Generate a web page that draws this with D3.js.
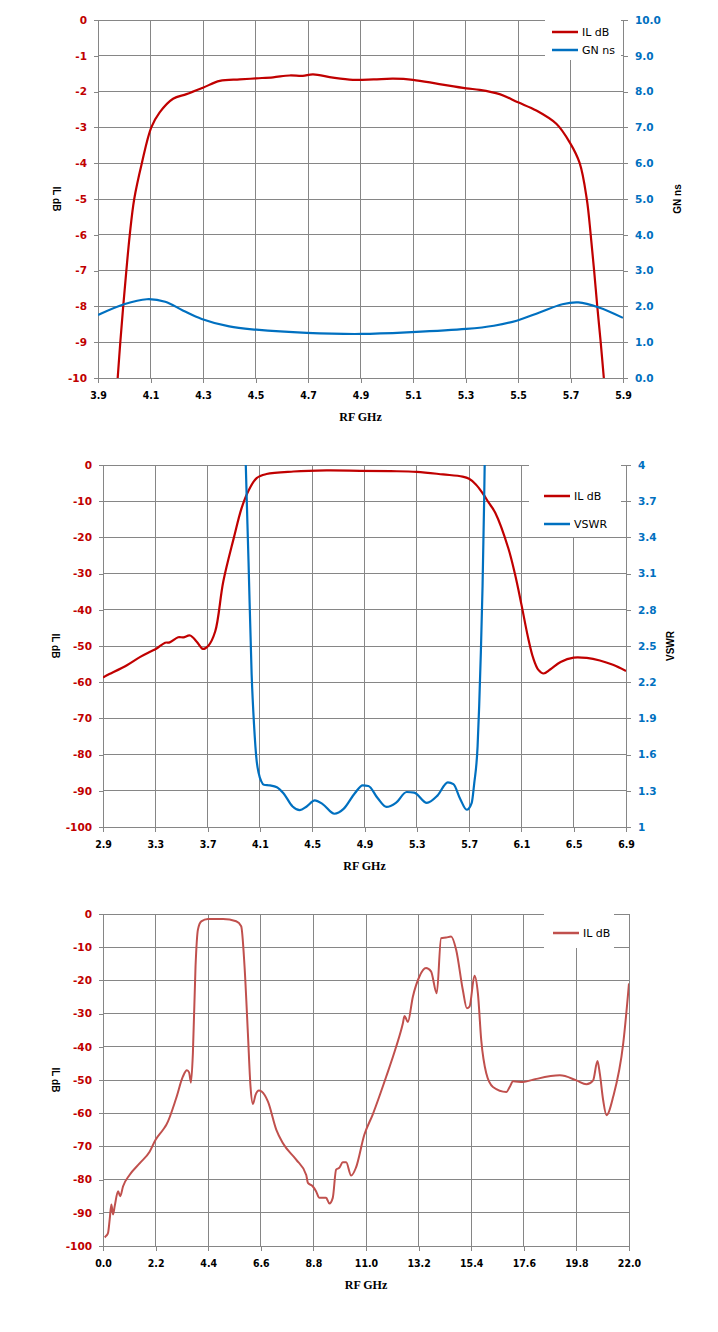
<!DOCTYPE html>
<html>
<head>
<meta charset="utf-8">
<script src="https://cdn.jsdelivr.net/npm/d3@7"></script>
<style>
  body { margin: 0; background: #fff; }
</style>
</head>
<body>
<div id="d3"></div>
<script>
// chart 1: passband IL and group delay
const passFreqIL = [3.975, 3.985, 3.996, 4.008, 4.021, 4.038, 4.067, 4.103, 4.135, 4.186, 4.237, 4.3, 4.364, 4.44, 4.503, 4.567, 4.63, 4.68, 4.719, 4.795, 4.871, 4.95, 5.024, 5.1, 5.2, 5.303, 5.354, 5.43, 5.5, 5.57, 5.646, 5.697, 5.735, 5.762, 5.777, 5.79, 5.802, 5.815, 5.827];
const passIL = [-10, -9, -8, -7, -6, -5, -4, -3, -2.58, -2.2, -2.07, -1.89, -1.7, -1.66, -1.63, -1.6, -1.55, -1.56, -1.52, -1.61, -1.67, -1.66, -1.64, -1.67, -1.79, -1.91, -1.95, -2.07, -2.3, -2.53, -2.9, -3.42, -4, -5, -6, -7, -8, -9, -10];
const passFreqGD = [3.9, 3.999, 4.086, 4.156, 4.225, 4.295, 4.4, 4.503, 4.695, 4.903, 5.095, 5.303, 5.408, 5.495, 5.582, 5.669, 5.73, 5.808, 5.9];
const passGD = [1.76, 2.06, 2.2, 2.13, 1.88, 1.65, 1.44, 1.35, 1.26, 1.23, 1.28, 1.37, 1.46, 1.6, 1.83, 2.06, 2.11, 1.97, 1.68];

// chart 2: IL and VSWR
const wideFreqIL = [2.9, 2.93, 3.083, 3.185, 3.26, 3.31, 3.375, 3.41, 3.475, 3.515, 3.566, 3.617, 3.664, 3.706, 3.758, 3.82, 3.9, 3.96, 4.01, 4.075, 4.15, 4.357, 4.61, 4.865, 5.1, 5.3, 5.5, 5.65, 5.7, 5.75, 5.8, 5.85, 5.9, 6.0, 6.05, 6.1, 6.15, 6.19, 6.23, 6.27, 6.32, 6.4, 6.5, 6.6, 6.7, 6.8, 6.9];
const wideIL = [-58.7, -58.1, -55.3, -53.0, -51.6, -50.7, -49.1, -49.0, -47.6, -47.6, -47.1, -48.8, -50.8, -49.9, -46.0, -32.2, -20.2, -11.9, -7.3, -3.6, -2.5, -1.8, -1.5, -1.6, -1.7, -1.9, -2.6, -3.2, -3.8, -5.3, -7.6, -10.4, -13.2, -23, -30, -38.5, -47.5, -53.3, -56.6, -57.6, -56.5, -54.4, -53.2, -53.3, -54.0, -55.2, -56.9];
const vswrFreq = [3.985, 3.99, 4.013, 4.037, 4.055, 4.075, 4.09, 4.11, 4.13, 4.177, 4.23, 4.28, 4.35, 4.405, 4.458, 4.52, 4.58, 4.67, 4.74, 4.826, 4.886, 4.93, 5.0, 5.068, 5.14, 5.223, 5.28, 5.377, 5.458, 5.537, 5.58, 5.633, 5.682, 5.72, 5.739, 5.765, 5.777, 5.79, 5.803, 5.815, 5.822];
const vswr = [4.3, 4.08, 3.2, 2.26, 1.85, 1.55, 1.45, 1.38, 1.35, 1.345, 1.33, 1.28, 1.17, 1.14, 1.17, 1.22, 1.19, 1.11, 1.15, 1.28, 1.345, 1.34, 1.24, 1.166, 1.2, 1.29, 1.285, 1.2, 1.26, 1.37, 1.355, 1.23, 1.143, 1.2, 1.36, 1.67, 2.0, 2.45, 3.0, 3.7, 4.2];

// chart 3: broadband IL
const broadFreq = [0.07, 0.14, 0.21, 0.28, 0.35, 0.42, 0.49, 0.63, 0.72, 0.84, 1.11, 1.53, 1.95, 2.2, 2.51, 2.65, 3.06, 3.34, 3.51, 3.6, 3.68, 3.76, 3.87, 3.97, 4.11, 4.39, 5.02, 5.57, 5.78, 5.92, 6.06, 6.17, 6.27, 6.38, 6.52, 6.76, 6.9, 7.25, 7.52, 8.08, 8.5, 8.57, 8.77, 8.91, 9.05, 9.33, 9.47, 9.61, 9.75, 9.89, 10.03, 10.17, 10.38, 10.58, 10.93, 11.28, 11.84, 12.26, 12.54, 12.61, 12.75, 12.96, 13.23, 13.51, 13.72, 13.96, 14.14, 14.35, 14.56, 14.77, 15.05, 15.22, 15.33, 15.54, 15.68, 15.82, 16.03, 16.31, 16.87, 17.01, 17.15, 17.57, 17.99, 19.11, 19.8, 20.22, 20.5, 20.68, 20.78, 20.92, 21.06, 21.34, 21.76, 22.0];
const broadIL = [-97.4, -96.9, -96.1, -92, -87.5, -90.5, -88, -83.5, -85, -82, -78.6, -75.1, -71.6, -68, -65, -63.5, -55.5, -49, -47.1, -47.7, -50.8, -41.9, -15.8, -4.7, -2.2, -1.5, -1.5, -2.2, -3.7, -15.8, -35.9, -52, -57.2, -54.5, -53.2, -54.5, -56.5, -65, -69, -74, -78.6, -81, -82, -83.5, -85.5, -85.5, -87.2, -85.5, -77, -76.4, -74.8, -74.8, -78.8, -76.4, -66.5, -60.4, -49.1, -40, -33, -30.7, -32.5, -24.9, -18.9, -16.3, -17.3, -23.9, -7.3, -7.1, -6.8, -10.8, -22.9, -28.4, -27.9, -18.6, -23.9, -38, -48, -52.1, -53.6, -52.1, -50.4, -50.6, -49.9, -48.6, -50.1, -51.3, -50.1, -44.3, -48.1, -56.1, -60.6, -55, -38.9, -20.9];

// tick values
const passXTicks = d3.range(0, 11).map((i) => +(3.9 + i * 0.2).toFixed(1));
const passYTicks = d3.range(-10, 1);
const passGDTicks = d3.range(0, 11);
const wideXTicks = d3.range(0, 11).map((i) => +(2.9 + i * 0.4).toFixed(1));
const wideYTicks = d3.range(-100, 1, 10);
const vswrTicks = d3.range(0, 11).map((i) => +(1 + i * 0.3).toFixed(1));
const broadXTicks = d3.range(0, 11).map((i) => +(i * 2.2).toFixed(1));
const broadYTicks = d3.range(-100, 1, 10);

const red = "#c00000";
const blue = "#0070c0";
const softRed = "#c0504d";
const gridColor = "#868686";

const svg = d3
  .select("#d3")
  .append("svg")
  .attr("width", 718)
  .attr("height", 1332);

function zip(xs, ys) {
  return xs.map((x, i) => [x, ys[i]]);
}

// plain hyphen instead of the unicode minus d3 uses
const intFmt = (d) => String(d);

function drawChart(c) {
  const g = svg.append("g");
  const x = d3.scaleLinear().domain(c.xDomain).range([c.left, c.right]);
  const yL = d3.scaleLinear().domain(c.yLeft.domain).range([c.bottom, c.top]);
  const yR = c.yRight
    ? d3.scaleLinear().domain(c.yRight.domain).range([c.bottom, c.top])
    : null;

  // gridlines
  g.selectAll(".hgrid")
    .data(c.yLeft.ticks)
    .enter()
    .append("line")
    .attr("x1", c.left)
    .attr("x2", c.right)
    .attr("y1", (d) => yL(d))
    .attr("y2", (d) => yL(d))
    .attr("stroke", gridColor)
    .attr("shape-rendering", "crispEdges");
  g.selectAll(".vgrid")
    .data(c.xTicks)
    .enter()
    .append("line")
    .attr("x1", (d) => x(d))
    .attr("x2", (d) => x(d))
    .attr("y1", c.top)
    .attr("y2", c.bottom)
    .attr("stroke", gridColor)
    .attr("shape-rendering", "crispEdges");

  // axes
  const styleAxis = (sel, color, font) => {
    sel.select(".domain").attr("stroke", gridColor).attr("shape-rendering", "crispEdges");
    sel.selectAll(".tick line").attr("stroke", gridColor).attr("shape-rendering", "crispEdges");
    sel.selectAll(".tick text")
      .attr("fill", color)
      .style("font-family", font.family)
      .style("font-size", font.size)
      .style("font-weight", "bold");
  };

  g.append("g")
    .attr("transform", `translate(0,${c.bottom})`)
    .call(
      d3.axisBottom(x).tickValues(c.xTicks).tickFormat(d3.format(".1f"))
        .tickSize(5).tickSizeOuter(0).tickPadding(9)
    )
    .call((s) => styleAxis(s, "#000", { family: "'DejaVu Sans Condensed', sans-serif", size: "10.5px" }));

  g.append("g")
    .attr("transform", `translate(${c.left},0)`)
    .call(
      d3.axisLeft(yL).tickValues(c.yLeft.ticks).tickFormat(c.yLeft.format)
        .tickSize(4).tickSizeOuter(0).tickPadding(7)
    )
    .call((s) => styleAxis(s, red, { family: "'DejaVu Sans', sans-serif", size: "10.5px" }));

  if (yR) {
    g.append("g")
      .attr("transform", `translate(${c.right},0)`)
      .call(
        d3.axisRight(yR).tickValues(c.yRight.ticks).tickFormat(c.yRight.format)
          .tickSize(5).tickSizeOuter(0).tickPadding(7)
      )
      .call((s) => styleAxis(s, blue, { family: "'DejaVu Sans', sans-serif", size: "10.5px" }));
  }

  // axis titles
  g.append("text")
    .attr("x", (c.left + c.right) / 2)
    .attr("y", c.bottom + 43)
    .attr("text-anchor", "middle")
    .style("font-family", "'Liberation Serif', serif")
    .style("font-size", "12px")
    .style("font-weight", "bold")
    .text("RF GHz");

  const midY = (c.top + c.bottom) / 2;
  g.append("text")
    .attr("transform", `translate(${c.leftTitleX},${midY}) rotate(90)`)
    .attr("text-anchor", "middle")
    .attr("dominant-baseline", "central")
    .style("font-family", "'Liberation Sans', sans-serif")
    .style("font-size", "10px")
    .style("font-weight", "bold")
    .text(c.yLeft.title);

  if (yR) {
    g.append("text")
      .attr("transform", `translate(${c.rightTitleX},${midY}) rotate(-90)`)
      .attr("text-anchor", "middle")
      .attr("dominant-baseline", "central")
      .style("font-family", "'Liberation Sans', sans-serif")
      .style("font-size", "10px")
      .style("font-weight", "bold")
      .text(c.yRight.title);
  }

  // series
  const clipId = "clip" + c.id;
  svg.append("clipPath")
    .attr("id", clipId)
    .append("rect")
    .attr("x", c.left)
    .attr("y", c.top)
    .attr("width", c.right - c.left)
    .attr("height", c.bottom - c.top);

  c.series.forEach((s) => {
    const yScale = s.axis === "right" ? yR : yL;
    const line = d3
      .line()
      .x((d) => x(d[0]))
      .y((d) => yScale(d[1]))
      .curve(s.curve);
    g.append("path")
      .datum(zip(s.x, s.y))
      .attr("clip-path", `url(#${clipId})`)
      .attr("fill", "none")
      .attr("stroke", s.color)
      .attr("stroke-width", s.width || 2.2)
      .attr("stroke-linejoin", "round")
      .attr("d", line);
  });

  // legend
  const lg = c.legend;
  g.append("rect")
    .attr("x", lg.x)
    .attr("y", c.top)
    .attr("width", lg.w)
    .attr("height", lg.h)
    .attr("fill", "#fff");
  c.series.forEach((s, i) => {
    const ly = lg.firstRow + i * lg.rowGap;
    g.append("line")
      .attr("x1", lg.lineX)
      .attr("x2", lg.lineX + 26)
      .attr("y1", ly)
      .attr("y2", ly)
      .attr("stroke", s.color)
      .attr("stroke-width", 2.5);
    g.append("text")
      .attr("x", lg.lineX + 30)
      .attr("y", ly)
      .attr("dominant-baseline", "central")
      .style("font-family", "'DejaVu Sans', sans-serif")
      .style("font-size", "11px")
      .text(s.name);
  });
}

const smooth = d3.curveCatmullRom.alpha(0.5);

drawChart({
  id: 1,
  left: 98, right: 623, top: 20, bottom: 378,
  xDomain: [3.9, 5.9],
  xTicks: passXTicks,
  yLeft: { domain: [-10, 0], ticks: passYTicks, format: intFmt, title: "IL dB" },
  yRight: { domain: [0, 10], ticks: passGDTicks, format: d3.format(".1f"), title: "GN ns" },
  leftTitleX: 56, rightTitleX: 677,
  series: [
    { name: "IL dB", x: passFreqIL, y: passIL, color: red, axis: "left", curve: smooth },
    { name: "GN ns", x: passFreqGD, y: passGD, color: blue, axis: "right", curve: smooth },
  ],
  legend: { x: 545, w: 76, h: 40, lineX: 552, firstRow: 32, rowGap: 18 },
});

drawChart({
  id: 2,
  left: 103, right: 626, top: 465, bottom: 827,
  xDomain: [2.9, 6.9],
  xTicks: wideXTicks,
  yLeft: { domain: [-100, 0], ticks: wideYTicks, format: intFmt, title: "IL dB" },
  yRight: { domain: [1, 4], ticks: vswrTicks, format: (d) => String(d), title: "VSWR" },
  leftTitleX: 55, rightTitleX: 670,
  series: [
    { name: "IL dB", x: wideFreqIL, y: wideIL, color: red, axis: "left", curve: smooth },
    { name: "VSWR", x: vswrFreq, y: vswr, color: blue, axis: "right", curve: d3.curveMonotoneX },
  ],
  legend: { x: 529, w: 92, h: 72, lineX: 544, firstRow: 496, rowGap: 28 },
});

drawChart({
  id: 3,
  left: 103, right: 629, top: 914, bottom: 1246,
  xDomain: [0, 22],
  xTicks: broadXTicks,
  yLeft: { domain: [-100, 0], ticks: broadYTicks, format: intFmt, title: "IL dB" },
  yRight: null,
  leftTitleX: 55,
  series: [
    { name: "IL dB", x: broadFreq, y: broadIL, color: softRed, axis: "left", curve: d3.curveMonotoneX, width: 2 },
  ],
  legend: { x: 544, w: 70, h: 34, lineX: 553, firstRow: 933, rowGap: 0 },
});
</script>
</body>
</html>
